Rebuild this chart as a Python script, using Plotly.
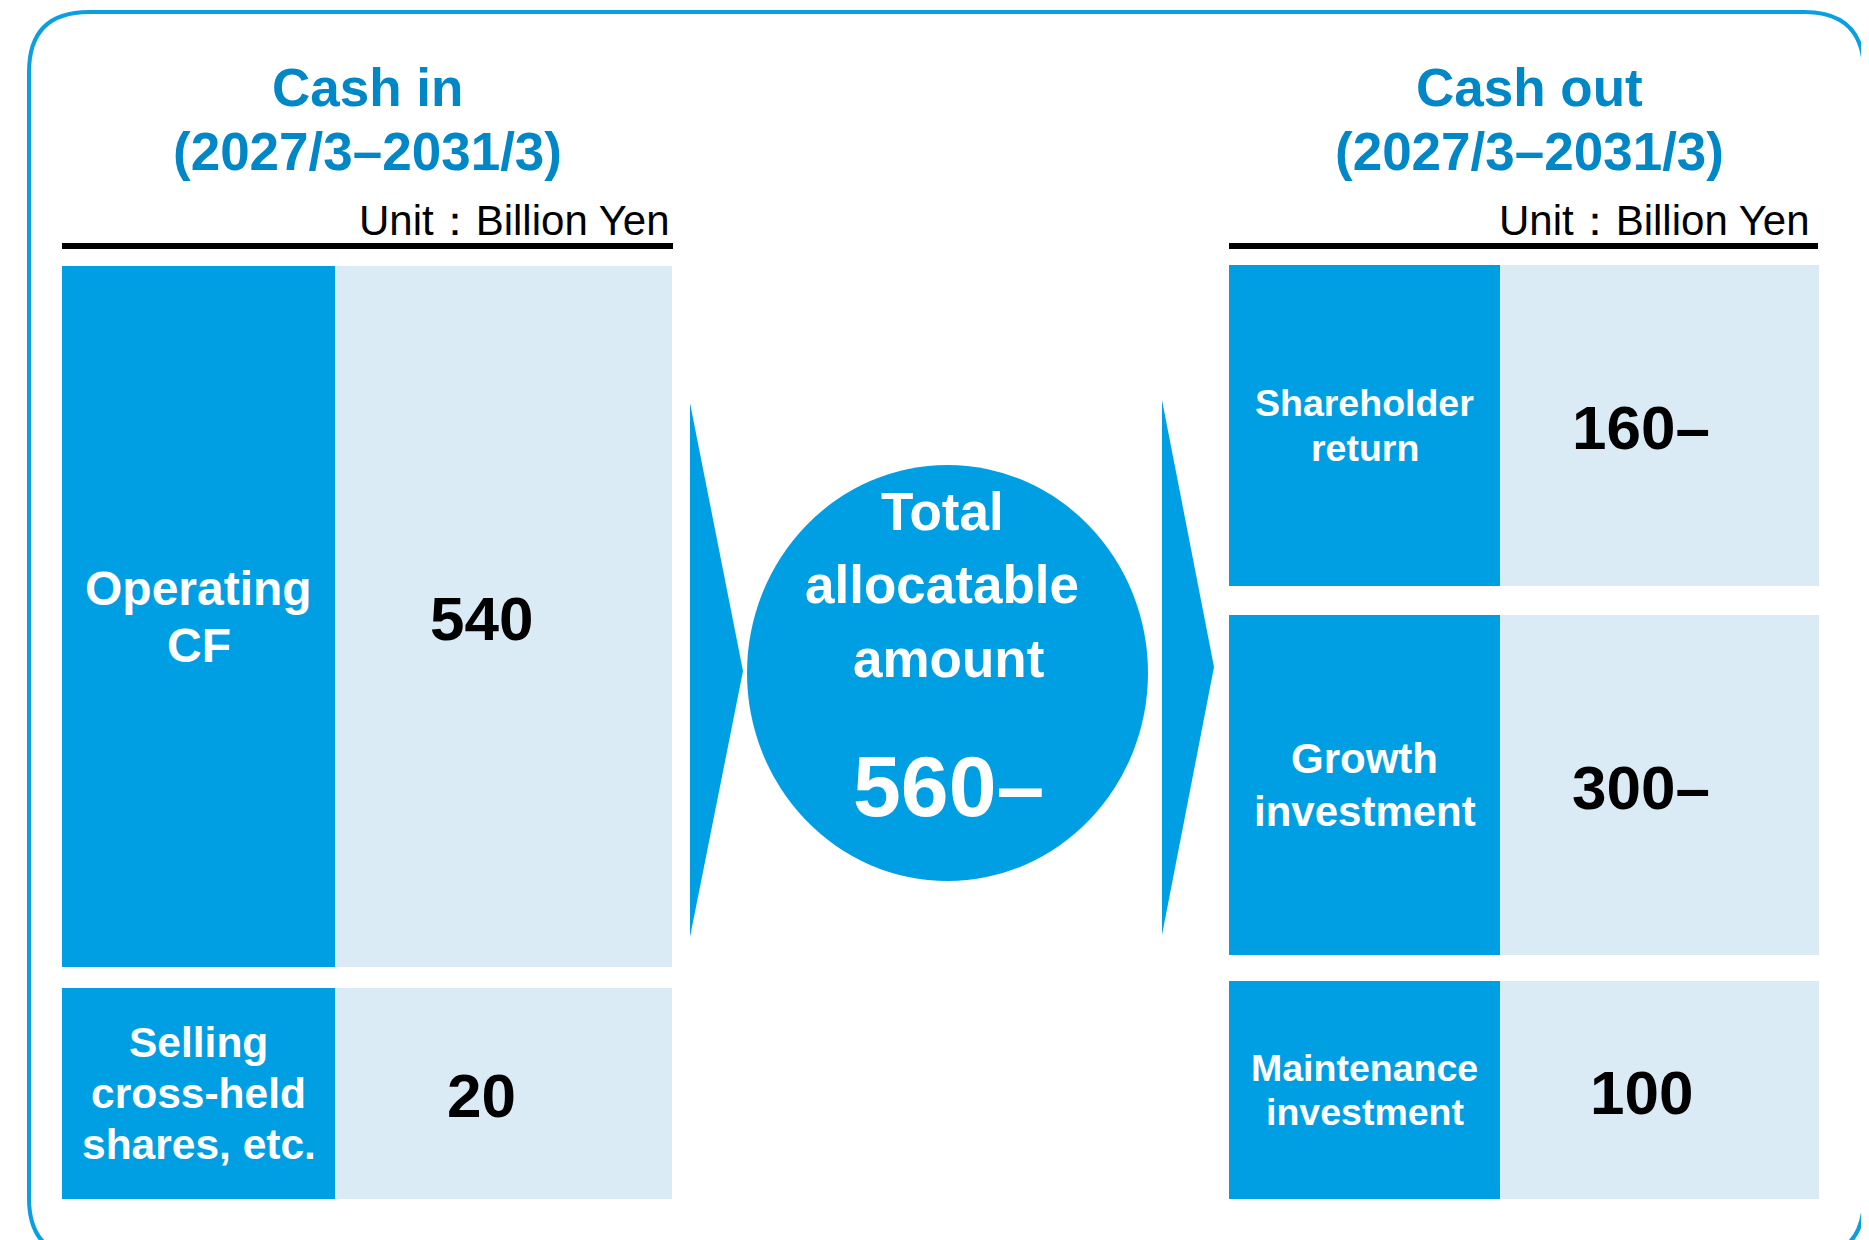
import plotly.graph_objects as go

# ---------------- data ----------------
in_title = ["Cash in", "(2027/3–2031/3)"]
out_title = ["Cash out", "(2027/3–2031/3)"]
unit_text = "Unit：Billion Yen"

in_items = ["Operating<br>CF", "Selling<br>cross-held<br>shares, etc."]
in_values = [540, 20]
in_suffix = ["", ""]

out_items = ["Shareholder<br>return", "Growth<br>investment", "Maintenance<br>investment"]
out_values = [160, 300, 100]
out_suffix = ["–", "–", ""]

total_lines = ["Total", "allocatable", "amount"]
total_value = 560
total_suffix = "–"

# ---------------- geometry / style (pixels) ----------------
W, H = 1869, 1240
PAGE_MARGIN = 8  # default body margin of the html page
FONT = "Liberation Sans, Arial, Helvetica, sans-serif"
DARK = "#009FE3"
LIGHT = "#DAEBF5"
TITLE_C = "#0087C8"
BORDER = "#0A9FE2"

in_rows = [(266, 967), (988, 1199)]
in_cols = (62, 335, 672)
in_label_font = [48, 42.5]
in_label_gap = [57, 51]
in_value_x = 481

out_rows = [(265, 586), (615, 955), (981, 1199)]
out_cols = (1229, 1500, 1819)
out_label_font = [37.5, 42, 37.5]
out_label_gap = [45, 53, 44]
out_value_x = 1641

VALUE_FONT = 62

fig = go.Figure()
shapes = []
ann = []


def text(x, y, s, size, color, bold=True, xanchor="center"):
    ann.append(dict(x=x, y=y, xref="x", yref="y", text=f"<b>{s}</b>" if bold else s,
                    showarrow=False, xanchor=xanchor, yanchor="middle",
                    font=dict(family=FONT, size=size, color=color)))


# rounded border
L, T, R, B, r = 29, 12, 1864, 1258, 60
path = (f"M {L+r},{T} L {R-r},{T} Q {R},{T} {R},{T+r} L {R},{B-r} Q {R},{B} {R-r},{B} "
        f"L {L+r},{B} Q {L},{B} {L},{B-r} L {L},{T+r} Q {L},{T} {L+r},{T} Z")
shapes.append(dict(type="path", xref="x", yref="y", path=path,
                   line=dict(color=BORDER, width=4), fillcolor="rgba(0,0,0,0)"))

# titles
for cx, lines in [(367, in_title), (1529, out_title)]:
    text(cx, 87, lines[0], 53, TITLE_C)
    text(cx, 151, lines[1], 53, TITLE_C)

# unit + black rule
for xr, x0, x1 in [(672, 62, 673), (1812, 1229, 1818)]:
    text(xr, 220, unit_text, 42, "#000000", bold=False, xanchor="right")
    shapes.append(dict(type="line", xref="x", yref="y", x0=x0, x1=x1, y0=246, y1=246,
                       line=dict(color="#000000", width=6)))


def panel(rows, cols, items, values, suffix, fonts, gaps, vx):
    for (y0, y1), item, v, suf, fs, gap in zip(rows, items, values, suffix, fonts, gaps):
        shapes.append(dict(type="rect", xref="x", yref="y", x0=cols[0], x1=cols[1], y0=y0, y1=y1,
                           fillcolor=DARK, line=dict(width=0), layer="below"))
        shapes.append(dict(type="rect", xref="x", yref="y", x0=cols[1], x1=cols[2], y0=y0, y1=y1,
                           fillcolor=LIGHT, line=dict(width=0), layer="below"))
        cy = (y0 + y1) / 2
        cx = (cols[0] + cols[1]) / 2
        lines = item.split("<br>")
        n = len(lines)
        for i, ln in enumerate(lines):
            text(cx, cy + (i - (n - 1) / 2) * gap, ln, fs, "#FFFFFF")
        text(vx, cy + 2, f"{v}{suf}", VALUE_FONT, "#000000")


panel(in_rows, in_cols, in_items, in_values, in_suffix, in_label_font, in_label_gap, in_value_x)
panel(out_rows, out_cols, out_items, out_values, out_suffix, out_label_font, out_label_gap, out_value_x)

# arrows
for bx, ty, by, tx, tipy in [(690, 403, 937, 743, 671), (1162, 400, 935, 1214, 667)]:
    shapes.append(dict(type="path", xref="x", yref="y",
                       path=f"M {bx},{ty} L {tx},{tipy} L {bx},{by} Z",
                       fillcolor=DARK, line=dict(width=0)))

# circle
shapes.append(dict(type="circle", xref="x", yref="y", x0=747, x1=1148, y0=465, y1=881,
                   fillcolor=DARK, line=dict(width=0)))
for i, (ln, y) in enumerate(zip(total_lines, [511, 584, 658])):
    text(942 if i < 2 else 948, y, ln, 53, "#FFFFFF")
text(948, 786, f"{total_value}{total_suffix}", 86, "#FFFFFF")

M = PAGE_MARGIN
fig.update_layout(
    width=W - M, height=H - M, margin=dict(l=0, r=0, t=0, b=0),
    paper_bgcolor="white", plot_bgcolor="white",
    xaxis=dict(range=[M, W], visible=False, fixedrange=True),
    yaxis=dict(range=[H, M], visible=False, fixedrange=True),
    shapes=shapes, annotations=ann, showlegend=False,
)
fig.write_html("out.html")
